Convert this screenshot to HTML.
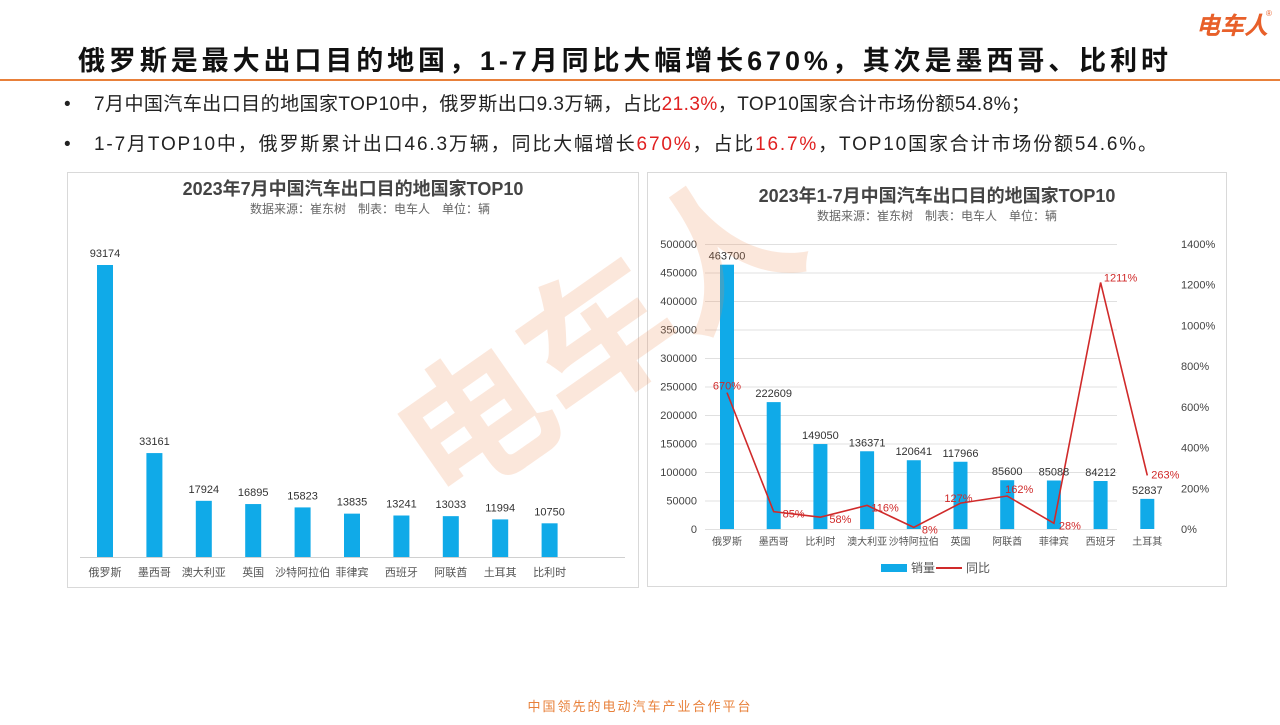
<!DOCTYPE html>
<html><head><meta charset="utf-8"><style>
body{margin:0;width:1280px;height:720px;background:#fff;overflow:hidden;font-family:"Liberation Sans","Noto Sans CJK SC",sans-serif}
</style></head><body>
<svg width="1280" height="720" xmlns="http://www.w3.org/2000/svg" font-family="Liberation Sans, Noto Sans CJK SC, sans-serif">
<text x="1268" y="34" text-anchor="end" font-size="24" font-weight="bold" font-style="italic" fill="#e8602a">电车人</text>
<text x="1266" y="16" font-size="8" fill="#e8602a">®</text>
<text x="78" y="70" font-size="27" font-weight="bold" fill="#111" textLength="1090" lengthAdjust="spacing">俄罗斯是最大出口目的地国，1-7月同比大幅增长670%，其次是墨西哥、比利时</text>
<rect x="0" y="79" width="1280" height="2" fill="#e8803a"/>
<g font-size="19" fill="#222">
<text x="64" y="110">•</text>
<text x="94" y="110" textLength="936" lengthAdjust="spacing">7月中国汽车出口目的地国家TOP10中，俄罗斯出口9.3万辆，占比<tspan fill="#e02020">21.3%</tspan>，TOP10国家合计市场份额54.8%；</text>
<text x="64" y="150">•</text>
<text x="94" y="150" textLength="1063" lengthAdjust="spacing">1-7月TOP10中，俄罗斯累计出口46.3万辆，同比大幅增长<tspan fill="#e02020">670%</tspan>，占比<tspan fill="#e02020">16.7%</tspan>，TOP10国家合计市场份额54.6%。</text>
</g>
<!-- left chart -->
<rect x="67.5" y="172.5" width="571" height="415" fill="none" stroke="#d9d9d9"/>
<text x="353" y="195" text-anchor="middle" font-size="18" font-weight="bold" fill="#444">2023年7月中国汽车出口目的地国家TOP10</text>
<text x="370" y="213" text-anchor="middle" font-size="12" fill="#666">数据来源：崔东树　制表：电车人　单位：辆</text>
<line x1="80" y1="557.5" x2="625" y2="557.5" stroke="#d0d0d0"/>
<g fill="#10aae8" id="lb"></g>
<g font-size="11" fill="#333" text-anchor="middle" id="lt"></g>
<!-- right chart -->
<rect x="647.5" y="172.5" width="579" height="414" fill="none" stroke="#d9d9d9"/>
<text x="937" y="202" text-anchor="middle" font-size="18" font-weight="bold" fill="#444">2023年1-7月中国汽车出口目的地国家TOP10</text>
<text x="937" y="220" text-anchor="middle" font-size="12" fill="#666">数据来源：崔东树　制表：电车人　单位：辆</text>
<g id="rg" stroke="#e0e0e0"></g>
<g id="ra" font-size="11" fill="#444"></g>
<g fill="#10aae8" id="rb"></g>
<polyline id="rl" fill="none" stroke="#d02a2a" stroke-width="1.6"/>
<g font-size="11" fill="#333" text-anchor="middle" id="rt"></g>
<rect x="881" y="564" width="26" height="8" fill="#10aae8"/>
<text x="911" y="572" font-size="12" fill="#555">销量</text>
<line x1="936" y1="568" x2="962" y2="568" stroke="#d02a2a" stroke-width="2"/>
<text x="966" y="572" font-size="12" fill="#555">同比</text>
<text x="600" y="390" font-size="150" font-weight="bold" fill="#f08a50" opacity="0.2" transform="rotate(-35 600 340)" text-anchor="middle">电车人</text>
<text x="640" y="711" text-anchor="middle" font-size="13" fill="#e8803a" letter-spacing="2">中国领先的电动汽车产业合作平台</text>
</svg>
<script>
const NS="http://www.w3.org/2000/svg";
function el(p,t,a,txt){const e=document.createElementNS(NS,t);for(const k in a)e.setAttribute(k,a[k]);if(txt!==undefined)e.textContent=txt;document.getElementById(p).appendChild(e);}
const ln=["俄罗斯","墨西哥","澳大利亚","英国","沙特阿拉伯","菲律宾","西班牙","阿联酋","土耳其","比利时"];
const lv=[93174,33161,17924,16895,15823,13835,13241,13033,11994,10750];
lv.forEach((v,i)=>{const cx=105+i*49.4,h=v*292/93174,y=557-h;
el("lb","rect",{x:cx-8,y:y,width:16,height:h});
el("lt","text",{x:cx,y:y-8},v);
el("lt","text",{x:cx,y:576,fill:"#555"},ln[i]);});
const rn=["俄罗斯","墨西哥","比利时","澳大利亚","沙特阿拉伯","英国","阿联酋","菲律宾","西班牙","土耳其"];
const rv=[463700,222609,149050,136371,120641,117966,85600,85088,84212,52837];
const rp=[670,85,58,116,8,127,162,28,1211,263];
const y0=529,sc=285;
for(let k=0;k<=10;k++){const y=y0-k*sc/10;
el("rg","line",{x1:705,x2:1117,y1:y+0.5,y2:y+0.5});
el("ra","text",{x:697,y:y+4,"text-anchor":"end"},k*50000);}
for(let k=0;k<=7;k++){const y=y0-k*sc/7;
el("ra","text",{x:1181,y:y+4},(k*200)+"%");}
let pts=[];
rv.forEach((v,i)=>{const cx=727+i*46.7,h=v/500000*sc,y=y0-h;
el("rb","rect",{x:cx-7,y:y,width:14,height:h});
el("rt","text",{x:cx,y:y-5},v);
el("rt","text",{x:cx,y:545,fill:"#555","font-size":"10"},rn[i]);
const py=y0-rp[i]/1400*sc;pts.push(cx+","+py);
const off=[[0,-7],[20,2],[20,2],[18,2],[16,2],[-2,-5],[12,-7],[16,2],[20,-5],[18,-1]][i];
el("rt","text",{x:cx+off[0],y:py+off[1]+4,fill:"#d02a2a"},rp[i]+"%");});
document.getElementById("rl").setAttribute("points",pts.join(" "));
</script>
</body></html>
